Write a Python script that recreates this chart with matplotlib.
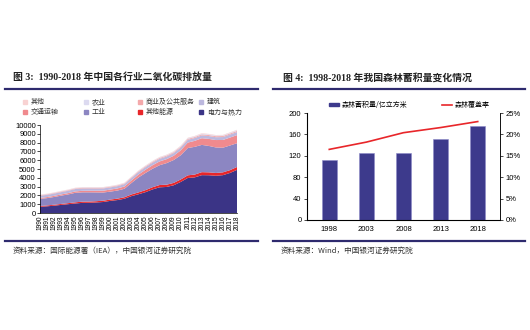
import matplotlib.pyplot as plt
from matplotlib.lines import Line2D
from matplotlib.patches import Patch

plt.rcParams['font.family'] = ['Noto Sans CJK SC', 'DejaVu Sans']

# ---- left chart: CO2 emissions by sector (Mt) ----
years = list(range(1990, 2019))
power = [700, 760, 830, 920, 1000, 1080, 1150, 1160, 1200, 1250, 1380, 1470, 1620, 1920, 2130,
         2370, 2680, 2920, 2960, 3150, 3530, 3980, 4050, 4300, 4290, 4230, 4300, 4550, 4900]
other_energy = [100, 100, 110, 110, 120, 130, 140, 140, 140, 150, 150, 160, 170, 190, 210,
                230, 250, 260, 260, 270, 280, 300, 320, 340, 330, 320, 320, 320, 330]
industry = [800, 830, 880, 940, 990, 1080, 1060, 1050, 1000, 930, 900, 920, 960, 1300, 1700,
            1950, 2100, 2250, 2450, 2600, 2750, 3100, 3150, 3100, 3000, 2900, 2800, 2800, 2700]
transport = [110, 120, 130, 140, 150, 160, 170, 180, 190, 210, 230, 240, 260, 290, 330,
             370, 400, 430, 450, 480, 560, 620, 680, 760, 800, 840, 880, 900, 920]
building = [250, 250, 255, 260, 265, 270, 270, 265, 260, 255, 255, 260, 265, 270, 280,
            290, 295, 300, 300, 305, 310, 315, 320, 325, 325, 325, 330, 340, 350]
commerce = [60, 62, 64, 66, 68, 70, 70, 70, 70, 72, 74, 76, 78, 82, 86,
            90, 94, 96, 98, 100, 104, 108, 110, 112, 112, 112, 114, 116, 120]
agri = [40, 41, 42, 44, 46, 48, 48, 48, 48, 50, 50, 52, 54, 56, 60,
        62, 64, 66, 68, 70, 72, 74, 76, 78, 78, 78, 78, 80, 80]
other = [30, 30, 31, 32, 33, 34, 34, 34, 34, 35, 36, 37, 38, 40, 42,
         44, 46, 48, 50, 52, 54, 55, 56, 57, 57, 57, 58, 59, 60]

sector_names = ['电力与热力', '其他能源', '工业', '交通运输', '建筑', '商业及公共服务', '农业', '其他']
sector_colors = ['#3B3486', '#E8262A', '#8C86C2', '#F08A8E', '#BCB8DE', '#F4A9AB', '#DCDAF0', '#F8D2D2']

# ---- right chart: forest stock ----
forest_years = ['1998', '2003', '2008', '2013', '2018']
forest_stock = [113, 125, 125, 151, 175]
forest_cover = [16.5, 18.2, 20.4, 21.6, 23.0]

navy = '#2E2A6E'
title_font = ['Liberation Serif', 'Noto Sans CJK SC']
W, H = 530, 330

fig = plt.figure(figsize=(5.3, 3.3), dpi=100)

# titles and rules
fig.text(13 / W, 1 - 77 / H, '图 3:  1990-2018 年中国各行业二氧化碳排放量', fontsize=7.1,
         fontweight='bold', family=title_font, color='#222222', va='center')
fig.text(283 / W, 1 - 78 / H, '图 4:  1998-2018 年我国森林蓄积量变化情况', fontsize=7.1,
         fontweight='bold', family=title_font, color='#222222', va='center')
for x0, x1 in [(5, 258), (273, 525)]:
    fig.add_artist(Line2D([x0 / W, x1 / W], [1 - 89 / H] * 2, color=navy, lw=1.6))
    fig.add_artist(Line2D([x0 / W, x1 / W], [1 - 241 / H] * 2, color=navy, lw=1.6))
fig.text(13 / W, 1 - 251 / H, '资料来源：国际能源署（IEA），中国银河证券研究院', fontsize=5.5,
         color='#333333', style='italic', va='center')
fig.text(281 / W, 1 - 251 / H, '资料来源：Wind，中国银河证券研究院', fontsize=5.5,
         color='#333333', style='italic', va='center')

# left chart
ax1 = fig.add_axes([40 / W, 1 - 213 / H, 197 / W, 88 / H])
ax1.stackplot(years, power, other_energy, industry, transport, building, commerce, agri, other,
              colors=sector_colors, lw=0)
ax1.set_xlim(1990, 2018)
ax1.set_ylim(0, 10000)
ax1.set_yticks(range(0, 10001, 1000))
ax1.set_xticks(years)
ax1.set_xticklabels([str(y) for y in years], rotation=90, fontsize=4.8, family='Liberation Sans')
ax1.tick_params(axis='y', labelsize=5.5, length=2, width=0.5, pad=1)
ax1.tick_params(axis='x', length=0, pad=1.5)
for lab in ax1.get_yticklabels():
    lab.set_family('Liberation Sans')
for s in ['top', 'right']:
    ax1.spines[s].set_visible(False)
ax1.spines['left'].set_linewidth(0.5)
ax1.spines['bottom'].set_linewidth(0.5)

# left legend, placed entry by entry: two rows of four
legend_rows = [[7, 6, 5, 4], [3, 2, 1, 0]]
col_x = [25, 86, 140, 201]
row_y = [102, 112]
for r, row in enumerate(legend_rows):
    for c, i in enumerate(row):
        fig.add_artist(Line2D([col_x[c] / W], [1 - row_y[r] / H], marker='s', ls='none',
                              markersize=3, color=sector_colors[i]))
        fig.text((col_x[c] + 6) / W, 1 - row_y[r] / H, sector_names[i], fontsize=5,
                 color='#333333', va='center')

# right chart
ax2 = fig.add_axes([307 / W, 1 - 220 / H, 193 / W, 107 / H])
xpos = list(range(len(forest_years)))
ax2.bar(xpos, forest_stock, width=0.4, color='#3D3A8C', edgecolor='#8C89C8', lw=0.4)
ax2.set_ylim(0, 200)
ax2.set_yticks(range(0, 201, 40))
ax2.set_xlim(-0.6, 4.6)
ax2.set_xticks(xpos)
ax2.set_xticklabels(forest_years)
ax2.tick_params(axis='both', labelsize=5.5, length=2, width=0.5, pad=2)
ax2.tick_params(axis='x', length=0, pad=4)
for lab in ax2.get_xticklabels() + ax2.get_yticklabels():
    lab.set_family('Liberation Sans')
ax2.spines['top'].set_visible(False)
for s in ['left', 'right', 'bottom']:
    ax2.spines[s].set_linewidth(0.5)

ax3 = ax2.twinx()
ax3.plot(xpos, forest_cover, color='#E8262A', lw=1.2)
ax3.set_ylim(0, 25)
ax3.set_yticks(range(0, 26, 5))
ax3.set_yticklabels([f'{v}%' for v in range(0, 26, 5)], family='Liberation Sans')
ax3.tick_params(axis='y', labelsize=5.5, length=2, width=0.5, pad=2)
ax3.spines['top'].set_visible(False)
ax3.spines['right'].set_linewidth(0.5)

fig.legend([Patch(color='#3D3A8C'), Line2D([], [], color='#E8262A', lw=1.2)],
           ['森林蓄积量/亿立方米', '森林覆盖率'], ncol=2, loc='center left',
           bbox_to_anchor=(329 / W, 1 - 105 / H), frameon=False, fontsize=5,
           handlelength=1.4, handleheight=0.35, handletextpad=0.4, columnspacing=5,
           borderaxespad=0, borderpad=0)

fig.savefig('out.png', dpi=100)
